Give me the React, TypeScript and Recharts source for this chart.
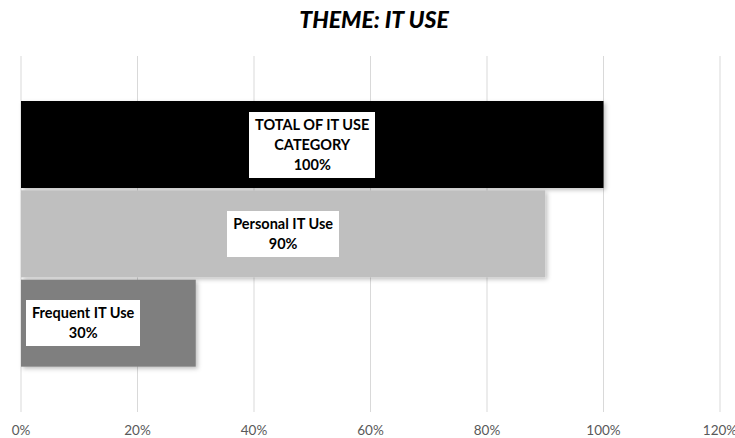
import React from 'react'
import { BarChart, Bar, XAxis, YAxis, CartesianGrid, Cell, LabelList } from 'recharts'

// values
const categories = ['TOTAL OF IT USE\nCATEGORY', 'Personal IT Use', 'Frequent IT Use']
const shares = [1.0, 0.9, 0.3]
const barColors = ['#000000', '#bfbfbf', '#7f7f7f']
const xTicks = [0, 0.2, 0.4, 0.6, 0.8, 1.0, 1.2]

const data = categories.map((name, i) => ({ name, value: shares[i] }))

const FONT = 'Lato, "Open Sans", sans-serif'

const pct = (v: number) => `${Math.round(v * 100)}%`

const BarLabel = (props: any) => {
  const { x, y, width, height, index } = props
  const d = data[index]
  // narrow bars get their label pushed to the left edge
  const narrow = width < 250
  return (
    <foreignObject x={x} y={y} width={Math.max(width, 200)} height={height}>
      <div
        style={{
          width: narrow ? 'auto' : width,
          height,
          display: 'flex',
          alignItems: 'center',
          justifyContent: narrow ? 'flex-start' : 'center',
          paddingLeft: narrow ? 5 : 0,
          boxSizing: 'border-box',
        }}
      >
        <div
          style={{
            background: '#fff',
            padding: '3px 6px',
            fontFamily: FONT,
            fontWeight: 700,
            fontSize: 14.5,
            lineHeight: '20px',
            color: '#000',
            textAlign: 'center',
            whiteSpace: 'pre-line',
          }}
        >
          {d.name + '\n' + pct(d.value)}
        </div>
      </div>
    </foreignObject>
  )
}

const ShadowBar = (props: any) => {
  const { x, y, width, height, fill } = props
  return <rect x={x} y={y} width={width} height={height} fill={fill} filter="url(#barShadow)" />
}

export default function App() {
  return (
    <div style={{ position: 'absolute', left: 0, top: 0, width: 735, height: 438, background: '#fff' }}>
      <div
        style={{
          position: 'absolute',
          top: 5,
          left: 0,
          width: 748,
          textAlign: 'center',
          fontFamily: FONT,
          fontWeight: 900,
          fontStyle: 'italic',
          fontSize: 23,
          color: '#000',
        }}
      >
        THEME: IT USE
      </div>
      <BarChart
        width={735}
        height={438}
        data={data}
        layout="vertical"
        margin={{ top: 56, right: 15, left: 21, bottom: 0 }}
        barCategoryGap={1}
      >
        <defs>
          <filter id="barShadow" x="-5%" y="-5%" width="115%" height="120%">
            <feDropShadow dx="2" dy="2" stdDeviation="2" floodColor="#000" floodOpacity="0.25" />
          </filter>
        </defs>
        <CartesianGrid vertical horizontal={false} stroke="#d9d9d9" />
        <XAxis
          type="number"
          domain={[0, 1.2]}
          ticks={xTicks}
          tickFormatter={pct}
          axisLine={false}
          tickLine={false}
          tickSize={0}
          tickMargin={13}
          height={26}
          interval={0}
          tick={{ fontFamily: FONT, fontSize: 13.5, fill: '#595959' }}
        />
        <YAxis type="category" dataKey="name" hide width={0} padding={{ top: 44, bottom: 44 }} />
        <Bar dataKey="value" isAnimationActive={false} shape={<ShadowBar />}>
          {data.map((_, i) => (
            <Cell key={i} fill={barColors[i]} />
          ))}
          <LabelList dataKey="value" content={<BarLabel />} />
        </Bar>
      </BarChart>
    </div>
  )
}
